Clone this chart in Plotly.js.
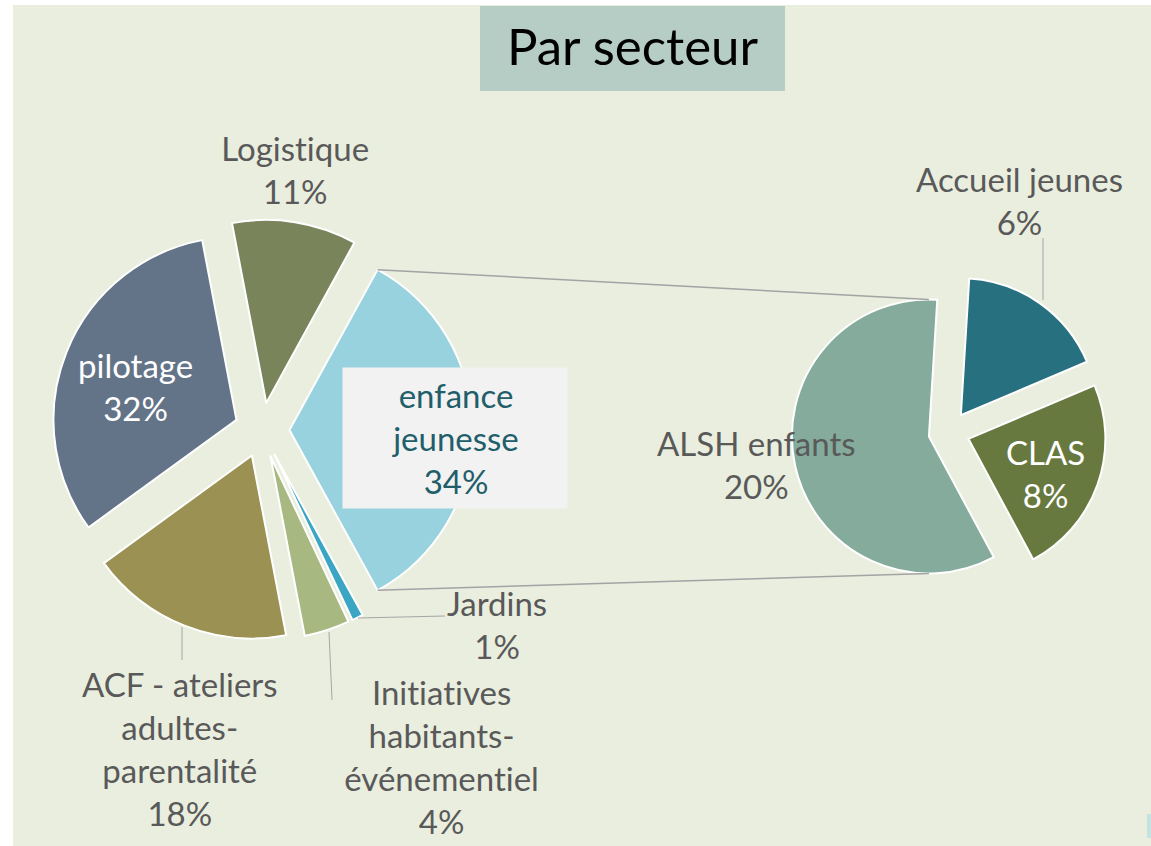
<!DOCTYPE html>
<html><head><meta charset="utf-8">
<script src="https://cdn.plot.ly/plotly-3.0.1.min.js"></script>
<style>
html,body{margin:0;padding:0;background:#fff;}
#chart{width:1151px;height:846px;}
#chart text{font-variant-ligatures:none;font-feature-settings:"liga" 0,"clig" 0;}
</style>
</head><body><div id="chart"></div>
<script>
// ---- data ----
const mainLabels = ['enfance jeunesse', 'Jardins', 'Initiatives habitants-événementiel', 'ACF - ateliers adultes-parentalité', 'pilotage', 'Logistique'];
const mainValues = [34, 1, 4, 18, 32, 11];
const mainText = ['enfance<br>jeunesse', 'Jardins', 'Initiatives<br>habitants-<br>événementiel', 'ACF - ateliers<br>adultes-<br>parentalité', 'pilotage', 'Logistique'];
const mainColors = ['#97D2DE', '#3BA6C4', '#A7B880', '#9A9152', '#637488', '#7A845A'];

const subLabels = ['Accueil jeunes', 'CLAS', 'ALSH enfants'];
const subValues = [6, 8, 20];
const subText = ['Accueil jeunes', 'CLAS', 'ALSH enfants'];
const subColors = ['#26707F', '#687940', '#84AB9C'];

const titleText = 'Par secteur';

// ---- layout constants (pixels) ----
const W = 1151, H = 846;
const PULL = 0.15;
const mainC = [262, 430], mainR = 183;
const subC = [949, 432], subR = 137, subRotation = 3.5;
const FONT = 'Lato, "Open Sans", sans-serif';
const GREY = '#595959';

const px = x => x / W;
const py = y => 1 - y / H;

function domainFor(c, r) {
  const half = r * (1 + PULL);
  return { x: [px(c[0] - half), px(c[0] + half)], y: [py(c[1] + half), py(c[1] - half)] };
}

const mainTotal = mainValues.reduce((a, b) => a + b, 0);
const subTotal = subValues.reduce((a, b) => a + b, 0);
const mainRotation = 90 - 180 * mainValues[0] / mainTotal;

const mainTrace = {
  type: 'pie', labels: mainLabels, values: mainValues, sort: false,
  direction: 'clockwise', rotation: mainRotation,
  pull: mainValues.map(() => PULL),
  marker: { colors: mainColors, line: { color: '#FFFFFF', width: 2 } },
  textinfo: 'none', hoverinfo: 'label+value', showlegend: false,
  domain: domainFor(mainC, mainR)
};
const subTrace = {
  type: 'pie', labels: subLabels, values: subValues, sort: false,
  direction: 'clockwise', rotation: subRotation,
  pull: subValues.map(() => PULL),
  marker: { colors: subColors, line: { color: '#FFFFFF', width: 2 } },
  textinfo: 'none', hoverinfo: 'label+value', showlegend: false,
  domain: domainFor(subC, subR)
};

// connector lines computed from the slice geometry
const rad = d => d * Math.PI / 180;
const enfA0 = mainRotation, enfA1 = mainRotation + 360 * mainValues[0] / mainTotal;
const enfMid = (enfA0 + enfA1) / 2;
const enfCx = mainC[0] + PULL * mainR * Math.sin(rad(enfMid));
const enfCy = mainC[1] - PULL * mainR * Math.cos(rad(enfMid));
const enfTop = [enfCx + mainR * Math.sin(rad(enfA0)), enfCy - mainR * Math.cos(rad(enfA0))];
const enfBot = [enfCx + mainR * Math.sin(rad(enfA1)), enfCy - mainR * Math.cos(rad(enfA1))];
const alshMid = subRotation + 360 * (subValues[0] + subValues[1]) / subTotal + 180 * subValues[2] / subTotal;
const alshCx = subC[0] + PULL * subR * Math.sin(rad(alshMid));
const alshCy = subC[1] - PULL * subR * Math.cos(rad(alshMid));
const subTop = [alshCx, alshCy - subR];
const subBot = [alshCx, alshCy + subR];

function line(a, b, color, width) {
  return { type: 'line', xref: 'paper', yref: 'paper', x0: px(a[0]), y0: py(a[1]), x1: px(b[0]), y1: py(b[1]),
    line: { color: color, width: width }, layer: 'above' };
}
function rect(x0, y0, x1, y1, fill) {
  return { type: 'rect', xref: 'paper', yref: 'paper', x0: px(x0), y0: py(y1), x1: px(x1), y1: py(y0),
    fillcolor: fill, line: { width: 0 }, layer: 'below' };
}

const shapes = [
  rect(13, 5, 1151, 846, '#E9EEDF'),
  rect(480, 6, 785, 91, '#B5CDC5'),
  rect(1147, 814, 1151, 838, '#C3E3E3'),
  line(enfTop, subTop, '#A3A3A3', 1.5),
  line(enfBot, subBot, '#A3A3A3', 1.5),
  // leader lines
  line([1043, 238], [1043, 300], '#A6A6A6', 1),
  line([182, 627], [182, 660], '#A6A6A6', 1),
  line([329, 632], [332, 700], '#A6A6A6', 1),
  line([358, 618], [445, 616], '#A6A6A6', 1)
];

// label placement (pixels) and colours
const mainLabelPos = [[455, 437], [497, 624], [441, 756], [180, 748], [135, 387], [295, 169]];
const mainLabelColor = ['#215E6A', GREY, GREY, GREY, '#FFFFFF', GREY];
const subLabelPos = [[1019, 200], [1045, 473], [756, 465]];
const subLabelColor = [GREY, '#FFFFFF', GREY];

const annotations = [];
mainText.forEach((t, i) => {
  const a = {
    xref: 'paper', yref: 'paper', x: px(mainLabelPos[i][0]), y: py(mainLabelPos[i][1]),
    xanchor: 'center', yanchor: 'middle', showarrow: false, align: 'center',
    text: t + '<br>' + mainValues[i] + '%',
    font: { family: FONT, size: 33, color: mainLabelColor[i] }
  };
  if (i === 0) { a.bgcolor = '#F2F2F2'; a.width = 224; a.height = 140; a.valign = 'middle'; a.borderpad = 0;
    a.y = py(438); a.yshift = 0; }
  annotations.push(a);
});
subText.forEach((t, i) => {
  annotations.push({
    xref: 'paper', yref: 'paper', x: px(subLabelPos[i][0]), y: py(subLabelPos[i][1]),
    xanchor: 'center', yanchor: 'middle', showarrow: false, align: 'center',
    text: t + '<br>' + subValues[i] + '%',
    font: { family: FONT, size: 33, color: subLabelColor[i] }
  });
});

const layout = {
  width: W, height: H,
  margin: { l: 0, r: 0, t: 0, b: 0, pad: 0 },
  paper_bgcolor: '#FFFFFF', plot_bgcolor: 'rgba(0,0,0,0)',
  font: { family: FONT, color: GREY },
  title: { text: titleText, font: { family: FONT, size: 51, color: '#000000' },
    xref: 'paper', yref: 'paper', x: px(632.5), xanchor: 'center', y: py(47), yanchor: 'middle' },
  showlegend: false,
  shapes: shapes,
  annotations: annotations
};

Plotly.newPlot('chart', [mainTrace, subTrace], layout, { displayModeBar: false, staticPlot: true });
</script>
</body></html>
